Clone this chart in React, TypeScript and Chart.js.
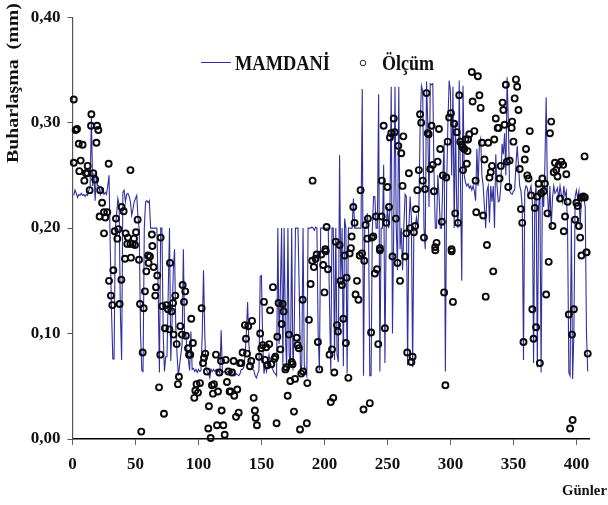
import React, { useEffect, useRef } from "react";
import { Chart, registerables } from "chart.js";

Chart.register(...registerables);

const yTickValues = [0, 0.1, 0.2, 0.3, 0.4];
const yAxisTitle = "Buharlaşma  (mm)";
const xAxisTitle = "Günler";
const lineName = "MAMDANİ";
const pointName = "Ölçüm";

// MAMDANİ model, one value a day from day 1
const mamdani = [
  .231,.236,.233,.229,.232,.231,.233,.231,.232,.23,
  .232,.231,.236,.24,.305,.24,.252,.226,.252,.24,
  .24,.232,.238,.236,.232,.234,.232,.24,.25,.18,
  .12,.076,.076,.2,.213,.228,.222,.12,.075,.234,
  .236,.225,.232,.233,.23,.225,.212,.218,.225,.228,
  .231,.21,.198,.1,.065,.064,.2,.225,.226,.224,
  .226,.2,.2,.2,.2,.2,.2,.14,.063,.2,
  .2,.1,.064,.078,.078,.14,.2,.074,.11,.16,
  .18,.105,.08,.06,.07,.08,.09,.18,.1,.1,
  .08,.075,.065,.102,.066,.067,.064,.066,.063,.066,
  .064,.065,.1,.16,.1,.066,.064,.062,.058,.066,
  .064,.066,.064,.066,.063,.065,.062,.103,.062,.064,
  .064,.062,.064,.064,.062,.063,.064,.06,.06,.062,
  .061,.06,.062,.066,.066,.068,.08,.1,.13,.09,
  .075,.068,.066,.065,.06,.058,.062,.065,.154,.155,
  .09,.062,.07,.064,.073,.08,.072,.068,.066,.063,
  .062,.06,.2,.09,.14,.2,.07,.2,.1,.065,
  .2,.08,.07,.2,.065,.1,.2,.2,.2,.14,
  .063,.07,.2,.07,.065,.06,.2,.2,.2,.201,
  .2,.198,.201,.2,.1,.065,.2,.2,.2,.2,
  .2,.2,.2,.13,.065,.2,.2,.075,.2,.08,
  .073,.269,.15,.2,.069,.209,.2,.062,.2,.2,
  .2,.2,.228,.2,.2,.2,.2,.2,.2,.332,
  .06,.2,.2,.214,.2,.06,.06,.2,.23,.23,
  .2,.2,.327,.064,.2,.2,.26,.072,.2,.22,
  .2,.22,.334,.1,.2,.334,.2,.16,.334,.18,
  .2,.16,.2,.232,.23,.07,.2,.23,.21,.068,
  .2,.2,.21,.2,.22,.3,.335,.33,.2,.18,
  .339,.3,.22,.337,.336,.337,.25,.2,.2,.25,
  .23,.2,.2,.25,.28,.064,.24,.3,.34,.33,
  .25,.334,.2,.3,.22,.2,.34,.24,.15,.335,
  .25,.243,.24,.242,.238,.24,.236,.24,.235,.226,
  .275,.24,.28,.285,.25,.24,.22,.2,.235,.24,
  .205,.24,.225,.24,.2,.27,.24,.225,.226,.24,
  .28,.27,.29,.25,.343,.3,.235,.233,.232,.235,
  .236,.26,.278,.26,.24,.235,.22,.075,.235,.24,
  .238,.23,.235,.24,.225,.072,.23,.24,.068,.22,
  .235,.063,.24,.22,.26,.324,.235,.21,.24,.2,
  .228,.24,.233,.235,.238,.228,.24,.232,.225,.24,
  .23,.235,.2,.063,.06,.21,.057,.1,.23,.236,
  .228,.235,.2,.23,.23,.228,.22,.1,.064,
];

// Ölçüm: measured days and values
const obsDays = [
  1,2.5,3.6,1,5,8,6.5,5.4,9.4,10.7,11.8,12,13.6,14.7,15,16.5,18,19,19.5,20.5,22,23.5,21.5,25,27.6,26,28.7,25,
  33.5,34.5,36.4,35.6,39,40.6,42.2,46,44,43.5,46,47.8,49.6,48.8,50.4,51.7,63,63.4,70,
  29,30.5,31.6,32.4,37.4,38.8,41.7,46.4,52.8,53.6,55.7,54.6,56.5,57.5,58.6,60,61.5,60.4,64.4,67.3,66.3,65.7,68.7,69.7,71.3,73.4,72.6,74.5,75.8,76.9,78.7,77.4,79.8,80.3,81.6,82.7,83.7,84.5,85.6,86.9,87.4,88.5,89.5,90,91.7,92.5,93.5,94.3,95.6,96.7,97.5,98.5,99.6,101.2,102.5,103.6,104.4,105.4,106.7,107.8,108.3,109.7,110.7,111.5,112.3,113.9,114.7,115.5,116.5,117.9,118.4,119.7,120.8,121.6,122.6,123.7,124.7,125.6,126.6,127.9,128.4,129.8,130.8,131.9,132.9,134,135,136.9,137.7,138.5,139.5,140.9,141.9,142.5,143.8,144.8,145.4,146.4,148,149,149.9,151,152,152.8,153.8,154.7,156.2,156.8,157.8,159.1,160.2,161,162,162.6,163.6,165,166,166.8,167.6,169,169.7,170.8,171.8,172.9,174,174.7,175.8,176.6,178,178.7,179.7,180.6,181.6,182.7,183,
  190.6,201.7,200.7,209,212,221.6,221,222.9,223.9,228.7,232.7,234.5,234,237.5,238.8,241,245.4,244,245.6,247,249,250,251.2,252,253,255.7,255,256.7,258.6,261,262,262.6,265,267,268,271,272,272.6,273.7,274.9,275.9,276.8,278,279,279.8,281,282,282.7,284,285,286,286.9,287.9,289,289.8,290.9,291.9,293.2,294,296.7,297.8,299,300.4,300.9,303,303.8,305,306,307,307.8,308.9,310,309.6,311,313,313.6,312,314,315,317,317.6,319,320,320.5,321.8,323,324,325,326,327,329,330,331,332,333,334.8,336,337.5,338.2,339,340,341.4,342,343,344,344.8,345.9,347,348.6,349,350,351,352,353,354,355,356,357,359,360,361,362,363,364,367,369,370,372,373,374,375,377,379,380,381,382,383,384,385,386,387,388,389.5,391,390,392,393,399,400,401,402,403,404,405.5,406.7,406.5,408,
  186,186.4,187.7,189,190.3,191.6,193,193.8,194.8,195.9,197.5,199,200,201,202.8,204,205,206,207,207.8,210,210.7,212.8,213.9,215,216,217,217.6,219,220,224.7,225.8,227,228,229.8,231.6,231,236,237,240,241.7,242.7,244,248,254,258,260,264,265.7,269,270,295,296,302,288,301,328,334,358,365,366,368,371,376,378,394,395,396.5,397,398,404,408,409,
];
const obsValues = [
  .322,.293,.294,.262,.28,.279,.264,.254,.245,.252,.252,.259,.236,.297,.308,.252,.246,.281,.297,.293,.236,.224,.211,.215,.215,.21,.261,.195,
  .197,.209,.199,.19,.22,.216,.195,.255,.191,.185,.185,.185,.184,.19,.196,.208,.194,.183,.191,
  .15,.136,.127,.16,.128,.151,.171,.172,.17,.128,.082,.007,.124,.14,.159,.174,.173,.167,.163,.155,.144,.136,.049,.08,.126,.105,.024,.127,.123,.104,.121,.167,.129,.099,.136,.09,.052,.059,.107,.099,.146,.13,.14,.098,.086,.08,.08,.114,.091,.039,.046,.052,.044,.053,.124,.072,.077,.081,.064,.01,.031,.001,.051,.043,.052,.08,.013,.045,.063,.074,.027,.013,.004,.075,.054,.064,.045,.045,.063,.074,.041,.021,.047,.025,.072,.072,.082,.108,.095,.081,.107,.069,.074,.112,.039,.027,.02,.013,.078,.1,.086,.089,.13,.075,.087,.07,.09,.122,.071,.144,.076,.078,.015,.097,.129,.085,.109,.128,.121,.066,.068,.041,.099,.055,.073,.071,.026,.057,.096,.089,.086,.009,.062,.132,.064,
  .245,.201,.18,.187,.184,.192,.181,.22,.205,.236,.203,.209,.19,.191,.192,.211,.211,.181,.245,.297,.205,.239,.22,.286,.29,.291,.304,.209,.278,.271,.24,.287,.195,.252,.2,.196,.202,.218,.236,.255,.308,.3,.245,.191,.237,.328,.29,.289,.256,.297,.26,.235,.182,.186,.263,.294,.275,.206,.25,.248,.282,.305,.309,.18,.299,.214,.291,.205,.326,.282,.279,.255,.277,.275,.261,.273,.284,.284,.289,.348,.32,.292,.245,.215,.344,.326,.314,.281,.212,.265,.184,.281,.248,.253,.259,.284,.304,.295,.295,.247,.259,.319,.312,.298,.336,.263,.239,.264,.295,.301,.282,.323,.341,.334,.312,.256,.218,.205,.265,.275,.25,.247,.292,.231,.219,.23,.242,.233,.247,.235,.242,.214,.29,.301,.202,.253,.262,.255,.249,.26,.228,.263,.26,.211,.197,.251,.225,.208,.224,.221,.202,.191,.229,.23,.229,.268,.177,
  .015,.053,.113,.147,.169,.163,.171,.175,.092,.066,.175,.165,.139,.178,.161,.08,.035,.085,.039,.063,.108,.102,.15,.146,.114,.174,.091,.153,.058,.176,.137,.15,.132,.174,.176,.169,.028,.034,.101,.157,.161,.09,.179,.105,.173,.167,.15,.173,.082,.073,.078,.139,.051,.13,.179,.178,.135,.159,.092,.123,.095,.106,.072,.137,.168,.118,.01,.099,.018,.123,.174,.177,.081,
];

const FONT = '"Liberation Serif", serif';
const LINE = "#3030a0";

// Axis names and legend, placed where the reference has them and stretched as its text is
const annotations = {
  id: "annotations",
  afterDraw(chart: any) {
    const ctx = chart.ctx as CanvasRenderingContext2D;
    const text = (s: string, x: number, y: number, size: number, sx: number, rot = 0) => {
      ctx.save();
      ctx.translate(x, y);
      if (rot) ctx.rotate(rot);
      ctx.scale(sx, 1);
      ctx.font = `bold ${size}px ${FONT}`;
      ctx.fillStyle = "#111";
      ctx.textAlign = "left";
      ctx.textBaseline = "alphabetic";
      ctx.fillText(s, 0, 0);
      ctx.restore();
    };
    text(yAxisTitle, 18, 163, 16, 1.24, -Math.PI / 2);
    text(xAxisTitle, 562, 495, 15, 0.98);
    text(lineName, 235, 70, 21, 0.876);
    text(pointName, 382, 70, 21, 0.857);
    ctx.save();
    ctx.strokeStyle = LINE;
    ctx.lineWidth = 1;
    ctx.beginPath();
    ctx.moveTo(201, 62.5);
    ctx.lineTo(231, 62.5);
    ctx.stroke();
    ctx.strokeStyle = "#222";
    ctx.lineWidth = 1;
    ctx.beginPath();
    ctx.arc(363, 63, 2.8, 0, Math.PI * 2);
    ctx.stroke();
    ctx.restore();
  },
};

export default function App() {
  const ref = useRef<HTMLCanvasElement | null>(null);

  useEffect(() => {
    if (!ref.current) return;
    const chart = new Chart(ref.current, {
      type: "scatter",
      data: {
        datasets: [
          {
            label: pointName,
            data: obsDays.map((d, i) => ({ x: d, y: obsValues[i] })),
            pointRadius: 3,
            pointBorderWidth: 1.9,
            pointBorderColor: "#0a0a0a",
            pointBackgroundColor: "rgba(255,255,255,0)",
            clip: false,
            order: 0,
          },
          {
            label: lineName,
            type: "line",
            data: mamdani.map((v, i) => ({ x: i + 1, y: v })),
            borderColor: LINE,
            borderWidth: 1.1,
            pointRadius: 0,
            tension: 0,
            order: 1,
          },
        ],
      } as any,
      plugins: [annotations],
      options: {
        responsive: false,
        animation: false,
        layout: { padding: { top: 17, right: 19, left: 0, bottom: 0 } },
        plugins: { legend: { display: false }, tooltip: { enabled: false } },
        scales: {
          x: {
            type: "linear",
            min: 0,
            max: 410,
            afterFit: (s: any) => { s.height = 66; },
            grid: { drawOnChartArea: false, drawTicks: true, tickLength: 6, color: "#666" },
            border: { color: "#000", width: 1.4 },
            ticks: {
              stepSize: 50,
              includeBounds: false,
              maxRotation: 0,
              padding: 9,
              color: "#111",
              font: { family: FONT, size: 17, weight: "bold" },
            },
          },
          y: {
            type: "linear",
            min: yTickValues[0],
            max: yTickValues[yTickValues.length - 1],
            afterFit: (s: any) => { s.width = 72.5; },
            grid: { drawOnChartArea: false, drawTicks: true, tickLength: 5, color: "#555" },
            border: { color: "#555", width: 1.2 },
            ticks: {
              stepSize: 0.1,
              padding: 7,
              color: "#111",
              font: { family: FONT, size: 17, weight: "bold" },
              callback: (v: any) => Number(v).toFixed(2).replace(".", ","),
            },
          },
        },
      },
    } as any);
    return () => chart.destroy();
  }, []);

  return (
    <div style={{ position: "fixed", left: 0, top: 0, width: 608, height: 505, background: "#fff" }}>
      <canvas ref={ref} width={608} height={505} style={{ display: "block" }} />
    </div>
  );
}
